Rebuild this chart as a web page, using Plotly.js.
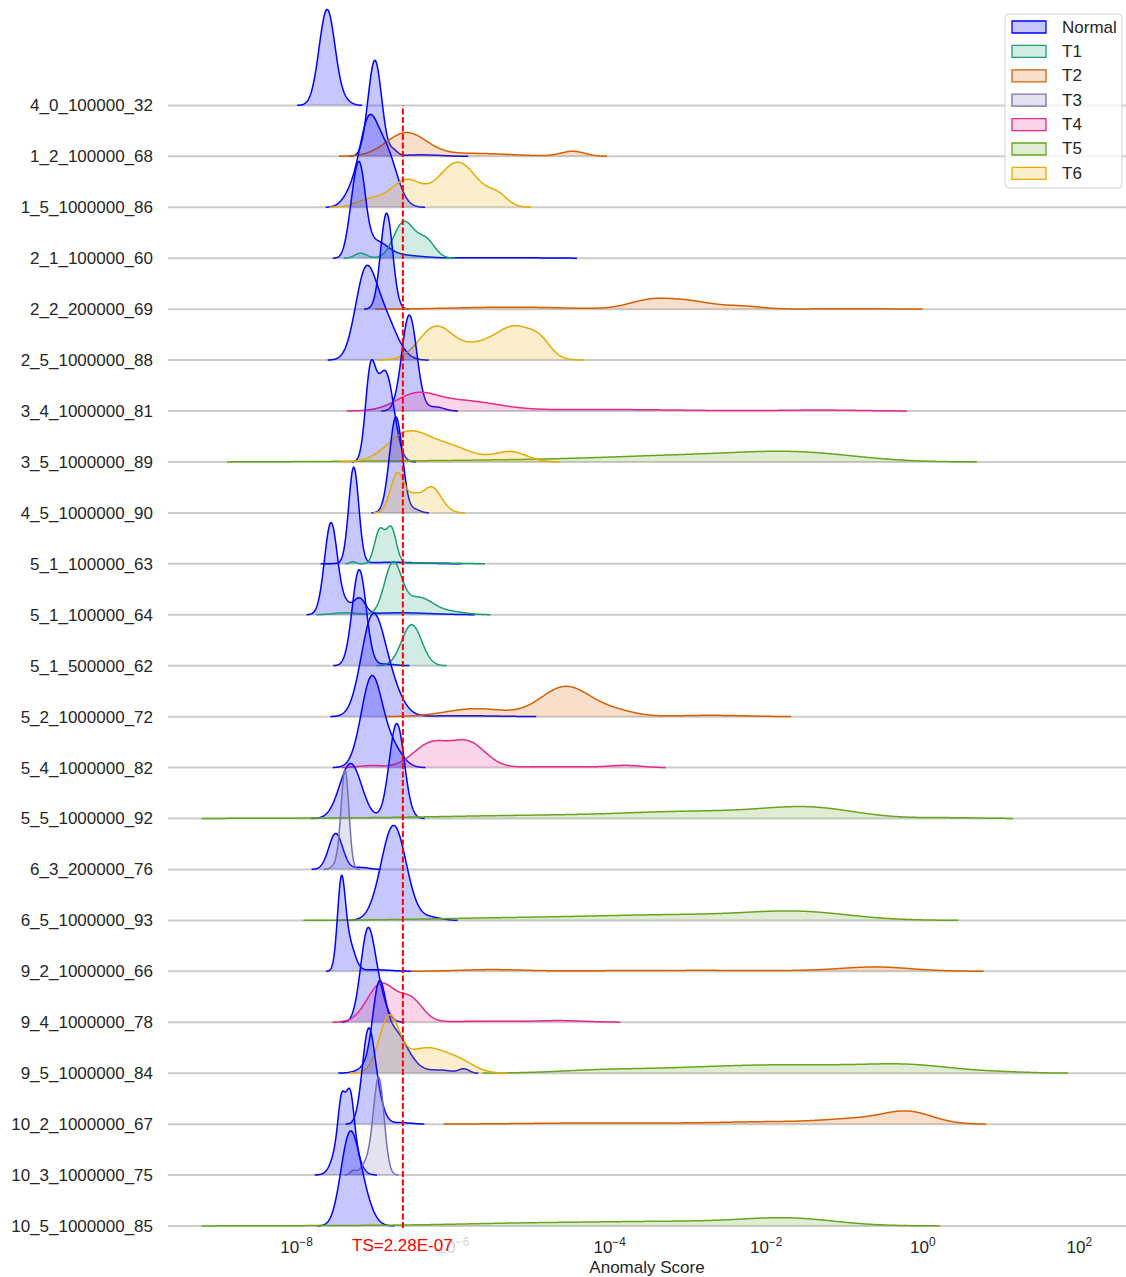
<!DOCTYPE html>
<html>
<head>
<meta charset="utf-8">
<script src="https://cdn.plot.ly/plotly-3.0.1.min.js"></script>
<style>
  html, body { margin: 0; padding: 0; background: #ffffff; }
  #chart { width: 1126px; height: 1277px; }
</style>
</head>
<body>
<div id="chart"></div>
<script>
// Ridgeline of anomaly-score densities per run (log10 scale on x).
const rowLabels = [
  '4_0_100000_32', '1_2_100000_68', '1_5_1000000_86', '2_1_100000_60',
  '2_2_200000_69', '2_5_1000000_88', '3_4_1000000_81', '3_5_1000000_89',
  '4_5_1000000_90', '5_1_100000_63', '5_1_100000_64', '5_1_500000_62',
  '5_2_1000000_72', '5_4_1000000_82', '5_5_1000000_92', '6_3_200000_76',
  '6_5_1000000_93', '9_2_1000000_66', '9_4_1000000_78', '9_5_1000000_84',
  '10_2_1000000_67', '10_3_1000000_75', '10_5_1000000_85'
];

const classNames = ['Normal', 'T1', 'T2', 'T3', 'T4', 'T5', 'T6'];

const threshold = 2.28e-7;
const thresholdLabel = 'TS=2.28E-07';

const xTickVals = [1e-8, 1e-6, 1e-4, 1e-2, 1, 100];
const xTickText = ['10<sup>\u22128</sup>', '<span style="color:#d4d4d4">10<sup>\u22126</sup></span>',
                   '10<sup>\u22124</sup>', '10<sup>\u22122</sup>', '10<sup>0</sup>', '10<sup>2</sup>'];

// Kernel components of each density: [run, log10 centre, relative height, bandwidth in decades]
const normalKernels = [
  ['4_0_100000_32', -7.61, 1.000, 0.102],
  ['4_0_100000_32', -7.37, 0.031, 0.077],
  ['1_2_100000_68', -7.00, 1.000, 0.087],
  ['1_2_100000_68', -6.76, 0.052, 0.051],
  ['1_2_100000_68', -6.41, 0.016, 0.255],
  ['1_5_1000000_86', -7.09, 0.781, 0.115],
  ['1_5_1000000_86', -6.86, 0.573, 0.140],
  ['1_5_1000000_86', -7.31, 0.125, 0.102],
  ['2_1_100000_60', -7.20, 0.885, 0.077],
  ['2_1_100000_60', -7.00, 0.167, 0.153],
  ['2_1_100000_60', -7.31, 0.208, 0.064],
  ['2_1_100000_60', -6.67, 0.031, 0.255],
  ['2_1_100000_60', -5.39, 0.006, 0.511],
  ['2_2_200000_69', -6.85, 1.000, 0.077],
  ['2_5_1000000_88', -7.13, 0.781, 0.128],
  ['2_5_1000000_88', -6.90, 0.469, 0.166],
  ['3_4_1000000_81', -6.56, 1.000, 0.096],
  ['3_4_1000000_81', -6.22, 0.042, 0.102],
  ['3_5_1000000_89', -7.06, 0.833, 0.064],
  ['3_5_1000000_89', -6.85, 0.854, 0.102],
  ['3_5_1000000_89', -6.96, 0.208, 0.077],
  ['4_5_1000000_90', -6.73, 1.000, 0.083],
  ['4_5_1000000_90', -6.48, 0.031, 0.064],
  ['5_1_100000_63', -7.27, 1.000, 0.064],
  ['5_1_100000_63', -6.79, 0.016, 0.383],
  ['5_1_100000_64', -7.56, 0.958, 0.083],
  ['5_1_100000_64', -7.20, 0.167, 0.077],
  ['5_1_100000_64', -7.37, 0.083, 0.064],
  ['5_1_100000_64', -6.67, 0.021, 0.383],
  ['5_1_500000_62', -7.20, 1.000, 0.089],
  ['5_1_500000_62', -6.86, 0.016, 0.128],
  ['5_2_1000000_72', -7.05, 0.833, 0.140],
  ['5_2_1000000_72', -6.86, 0.417, 0.166],
  ['5_2_1000000_72', -5.90, 0.010, 0.447],
  ['5_4_1000000_82', -7.04, 0.938, 0.134],
  ['5_4_1000000_82', -6.77, 0.188, 0.128],
  ['5_5_1000000_92', -7.31, 0.573, 0.140],
  ['5_5_1000000_92', -6.72, 0.990, 0.096],
  ['6_3_200000_76', -7.50, 0.375, 0.089],
  ['6_3_200000_76', -7.18, 0.021, 0.102],
  ['6_5_1000000_93', -6.76, 0.990, 0.160],
  ['6_5_1000000_93', -6.28, 0.031, 0.128],
  ['9_2_1000000_66', -7.43, 0.833, 0.049],
  ['9_2_1000000_66', -7.34, 0.313, 0.077],
  ['9_2_1000000_66', -6.99, 0.016, 0.192],
  ['9_4_1000000_78', -7.10, 0.833, 0.089],
  ['9_4_1000000_78', -6.97, 0.313, 0.102],
  ['9_5_1000000_84', -6.95, 0.625, 0.077],
  ['9_5_1000000_84', -6.79, 0.469, 0.192],
  ['9_5_1000000_84', -6.16, 0.031, 0.153],
  ['9_5_1000000_84', -5.86, 0.042, 0.064],
  ['10_2_1000000_67', -7.09, 0.833, 0.077],
  ['10_2_1000000_67', -6.99, 0.292, 0.089],
  ['10_2_1000000_67', -6.67, 0.016, 0.128],
  ['10_3_1000000_75', -7.37, 0.677, 0.109],
  ['10_3_1000000_75', -7.43, 0.250, 0.038],
  ['10_3_1000000_75', -7.31, 0.292, 0.045],
  ['10_5_1000000_85', -7.34, 0.729, 0.109],
  ['10_5_1000000_85', -7.20, 0.417, 0.128]
];

const t1Kernels = [
  ['2_1_100000_60', -6.63, 0.375, 0.128],
  ['2_1_100000_60', -6.35, 0.188, 0.115],
  ['2_1_100000_60', -7.18, 0.052, 0.077],
  ['5_1_100000_63', -6.94, 0.344, 0.064],
  ['5_1_100000_63', -6.79, 0.365, 0.064],
  ['5_1_100000_63', -7.28, 0.021, 0.038],
  ['5_1_100000_63', -6.28, 0.010, 0.319],
  ['5_1_100000_64', -6.77, 0.521, 0.109],
  ['5_1_100000_64', -6.44, 0.177, 0.179],
  ['5_1_100000_64', -6.03, 0.031, 0.192],
  ['5_1_100000_64', -7.37, 0.021, 0.153],
  ['5_1_500000_62', -6.53, 0.427, 0.128]
];

const t2Kernels = [
  ['1_2_100000_68', -6.60, 0.240, 0.255],
  ['1_2_100000_68', -5.77, 0.031, 0.511],
  ['1_2_100000_68', -4.47, 0.052, 0.153],
  ['2_2_200000_69', -3.47, 0.094, 0.281],
  ['2_2_200000_69', -2.96, 0.073, 0.281],
  ['2_2_200000_69', -2.32, 0.031, 0.255],
  ['2_2_200000_69', -5.26, 0.021, 0.702],
  ['2_2_200000_69', -0.92, 0.005, 0.511],
  ['5_2_1000000_72', -4.56, 0.313, 0.319],
  ['5_2_1000000_72', -5.71, 0.083, 0.383],
  ['5_2_1000000_72', -3.92, 0.052, 0.255],
  ['5_2_1000000_72', -2.71, 0.014, 0.447],
  ['9_2_1000000_66', -0.60, 0.042, 0.447],
  ['9_2_1000000_66', -5.52, 0.016, 0.383],
  ['9_2_1000000_66', -2.84, 0.010, 1.533],
  ['10_2_1000000_67', -0.19, 0.125, 0.319],
  ['10_2_1000000_67', -0.86, 0.042, 0.383],
  ['10_2_1000000_67', -1.81, 0.026, 0.766],
  ['10_2_1000000_67', -4.11, 0.0125, 0.894]
];

const t3Kernels = [
  ['6_3_200000_76', -7.38, 1.000, 0.049],
  ['6_3_200000_76', -7.46, 0.083, 0.064],
  ['10_3_1000000_75', -6.95, 1.000, 0.068],
  ['10_3_1000000_75', -7.10, 0.125, 0.077],
  ['10_3_1000000_75', -7.28, 0.042, 0.038]
];

const t4Kernels = [
  ['3_4_1000000_81', -6.48, 0.146, 0.255],
  ['3_4_1000000_81', -5.90, 0.104, 0.447],
  ['3_4_1000000_81', -4.11, 0.016, 1.020],
  ['3_4_1000000_81', -1.30, 0.010, 0.511],
  ['5_4_1000000_82', -6.28, 0.250, 0.230],
  ['5_4_1000000_82', -5.80, 0.250, 0.217],
  ['5_4_1000000_82', -3.79, 0.021, 0.192],
  ['5_4_1000000_82', -4.62, 0.010, 0.511],
  ['5_4_1000000_82', -7.05, 0.021, 0.153],
  ['9_4_1000000_78', -6.92, 0.396, 0.179],
  ['9_4_1000000_78', -6.54, 0.229, 0.153],
  ['9_4_1000000_78', -4.62, 0.016, 0.319],
  ['9_4_1000000_78', -5.65, 0.010, 0.511]
];

const t5Kernels = [
  ['3_5_1000000_89', -1.62, 0.094, 0.766],
  ['3_5_1000000_89', -3.09, 0.057, 0.894],
  ['3_5_1000000_89', -4.75, 0.021, 1.020],
  ['3_5_1000000_89', -6.67, 0.008, 1.086],
  ['5_5_1000000_92', -1.43, 0.094, 0.575],
  ['5_5_1000000_92', -2.84, 0.073, 1.020],
  ['5_5_1000000_92', -5.13, 0.026, 1.020],
  ['5_5_1000000_92', -6.92, 0.005, 1.277],
  ['5_5_1000000_92', 0.36, 0.008, 0.383],
  ['6_5_1000000_93', -1.56, 0.073, 0.639],
  ['6_5_1000000_93', -3.09, 0.057, 1.149],
  ['6_5_1000000_93', -5.39, 0.021, 1.020],
  ['9_5_1000000_84', -4.11, 0.026, 0.575],
  ['9_5_1000000_84', -2.58, 0.060, 0.894],
  ['9_5_1000000_84', -1.30, 0.057, 0.766],
  ['9_5_1000000_84', -0.15, 0.073, 0.575],
  ['9_5_1000000_84', 1.00, 0.010, 0.383],
  ['10_5_1000000_85', -1.69, 0.063, 0.575],
  ['10_5_1000000_85', -3.09, 0.047, 1.149],
  ['10_5_1000000_85', -5.13, 0.021, 0.894],
  ['10_5_1000000_85', -6.92, 0.005, 1.277]
];

const t6Kernels = [
  ['1_5_1000000_86', -6.60, 0.271, 0.192],
  ['1_5_1000000_86', -5.94, 0.469, 0.255],
  ['1_5_1000000_86', -5.43, 0.104, 0.128],
  ['1_5_1000000_86', -7.05, 0.083, 0.179],
  ['2_5_1000000_88', -6.22, 0.344, 0.217],
  ['2_5_1000000_88', -5.20, 0.344, 0.255],
  ['2_5_1000000_88', -5.71, 0.125, 0.230],
  ['2_5_1000000_88', -4.88, 0.104, 0.128],
  ['3_5_1000000_89', -6.60, 0.271, 0.255],
  ['3_5_1000000_89', -6.09, 0.167, 0.319],
  ['3_5_1000000_89', -5.26, 0.104, 0.204],
  ['4_5_1000000_90', -6.71, 0.417, 0.089],
  ['4_5_1000000_90', -6.28, 0.271, 0.128],
  ['4_5_1000000_90', -6.51, 0.125, 0.077],
  ['9_5_1000000_84', -6.82, 0.542, 0.128],
  ['9_5_1000000_84', -6.35, 0.260, 0.281],
  ['9_5_1000000_84', -5.90, 0.083, 0.192]
];

// ---- styling ----
const kernelSets = [normalKernels, t1Kernels, t2Kernels, t3Kernels, t4Kernels, t5Kernels, t6Kernels];
const lineColors = ['#0000ff', '#1b9e77', '#d95f02', '#7570b3', '#e7298a', '#66a61e', '#e6ab02'];
const fillColors = ['rgba(0,0,255,0.22)', 'rgba(27,158,119,0.2)', 'rgba(217,95,2,0.2)',
                    'rgba(117,112,179,0.2)', 'rgba(231,41,138,0.2)', 'rgba(102,166,30,0.2)',
                    'rgba(230,171,2,0.2)'];
const FONT = 'Liberation Sans, Arial, Helvetica, sans-serif';
const TEXT = '#262626';
const RIDGE = 1.884;          // height of a full-scale ridge, in row spacings
const LOG_MIN = -9.643, LOG_MAX = 2.597;
const EPS = 0.001;

// figure geometry (px) used for the hand-placed legend
const W = 1126, H = 1277, ML = 168, MB = 47;
const PW = W - ML, PH = H - MB;
const px2paperX = px => (px - ML) / PW;
const px2paperY = py => (PH - py) / PH;

const grid = [];
for (let L = LOG_MIN; L <= LOG_MAX + 1e-9; L += 0.005) grid.push(L);

const nRows = rowLabels.length;
const traces = [];

rowLabels.forEach((label, i) => {
  const base = nRows - 1 - i;
  // row baseline: under its own ridges, but over the ridges of the rows above
  traces.push({
    x: [Math.pow(10, LOG_MIN), Math.pow(10, LOG_MAX)], y: [base, base],
    type: 'scatter', mode: 'lines',
    line: { color: '#cccccc', width: 2 },
    hoverinfo: 'skip', showlegend: false
  });
  classNames.forEach((cls, c) => {
    const comps = kernelSets[c].filter(k => k[0] === label);
    if (!comps.length) return;
    const dens = grid.map(L => comps.reduce((s, k) => s + k[2] * Math.exp(-0.5 * Math.pow((L - k[1]) / k[3], 2)), 0));
    let lo = dens.findIndex(d => d > EPS);
    let hi = dens.length - 1;
    while (hi > 0 && dens[hi] <= EPS) hi--;
    lo = Math.max(0, lo - 1);
    hi = Math.min(dens.length - 1, hi + 1);
    const xs = [], ys = [], bs = [];
    for (let j = lo; j <= hi; j++) {
      xs.push(Math.pow(10, grid[j]));
      ys.push(base + RIDGE * dens[j]);
      bs.push(base);
    }
    traces.push({
      x: xs, y: bs, type: 'scatter', mode: 'lines',
      line: { width: 0, color: 'rgba(0,0,0,0)', simplify: false },
      hoverinfo: 'skip', showlegend: false
    });
    traces.push({
      x: xs, y: ys, type: 'scatter', mode: 'lines',
      fill: 'tonexty', fillcolor: fillColors[c],
      line: { color: lineColors[c], width: 1.5, simplify: false },
      name: cls, hoverinfo: 'skip', showlegend: false
    });
  });
});

// threshold marker
traces.push({
  x: [threshold, threshold], y: [-0.04, nRows - 1],
  type: 'scatter', mode: 'lines',
  line: { color: '#ff0000', width: 2, dash: '6px,2.5px' },
  hoverinfo: 'skip', showlegend: false
});

// legend panel
function roundRectPath(x0, y0, x1, y1, r) {
  const rx = r / PW, ry = r / PH;
  const X0 = px2paperX(x0), X1 = px2paperX(x1), Y0 = px2paperY(y0), Y1 = px2paperY(y1);
  return `M${X0 + rx},${Y0} L${X1 - rx},${Y0} Q${X1},${Y0} ${X1},${Y0 - ry} ` +
         `L${X1},${Y1 + ry} Q${X1},${Y1} ${X1 - rx},${Y1} L${X0 + rx},${Y1} ` +
         `Q${X0},${Y1} ${X0},${Y1 + ry} L${X0},${Y0 - ry} Q${X0},${Y0} ${X0 + rx},${Y0} Z`;
}
const legendShapes = [{
  type: 'path', xref: 'paper', yref: 'paper',
  path: roundRectPath(1005, 14, 1122, 188, 4),
  fillcolor: 'rgba(255,255,255,0.8)', line: { color: '#d0d0d0', width: 1 }, layer: 'above'
}];
const legendAnnotations = [];
classNames.forEach((cls, c) => {
  const yc = 27 + c * 24.4;
  legendShapes.push({
    type: 'rect', xref: 'paper', yref: 'paper',
    x0: px2paperX(1012), x1: px2paperX(1046),
    y0: px2paperY(yc - 6), y1: px2paperY(yc + 6),
    fillcolor: fillColors[c], line: { color: lineColors[c], width: 1.3 }, layer: 'above'
  });
  legendAnnotations.push({
    xref: 'paper', yref: 'paper', x: px2paperX(1060), y: px2paperY(yc),
    xanchor: 'left', yanchor: 'middle', showarrow: false, text: cls,
    font: { family: FONT, size: 17, color: TEXT }
  });
});

const layout = {
  width: W, height: H,
  margin: { l: ML, r: 0, t: 0, b: MB },
  paper_bgcolor: '#ffffff', plot_bgcolor: '#ffffff',
  font: { family: FONT, size: 17, color: TEXT },
  showlegend: false,
  hovermode: false,
  xaxis: {
    type: 'log', range: [LOG_MIN, LOG_MAX],
    tickvals: xTickVals, ticktext: xTickText,
    showgrid: false, zeroline: false, showline: false, ticks: '',
    ticklabelstandoff: 5,
    tickfont: { family: FONT, size: 17, color: TEXT },
    title: { text: 'Anomaly Score', font: { family: FONT, size: 17, color: TEXT }, standoff: 5 },
    automargin: false
  },
  yaxis: {
    range: [-0.0785, 24.07],
    tickvals: rowLabels.map((_, i) => nRows - 1 - i),
    ticktext: rowLabels,
    showgrid: false, zeroline: false, showline: false, ticks: '',
    ticklabelstandoff: 14,
    tickfont: { family: FONT, size: 17, color: TEXT },
    automargin: false
  },
  shapes: legendShapes,
  annotations: [{
    x: Math.log10(threshold), xref: 'x', y: -0.0125, yref: 'paper',
    text: thresholdLabel, showarrow: false,
    xanchor: 'center', yanchor: 'middle',
    font: { family: FONT, size: 17, color: '#ff0000' }
  }].concat(legendAnnotations)
};

Plotly.newPlot('chart', traces, layout, { staticPlot: true, displayModeBar: false });
</script>
</body>
</html>
